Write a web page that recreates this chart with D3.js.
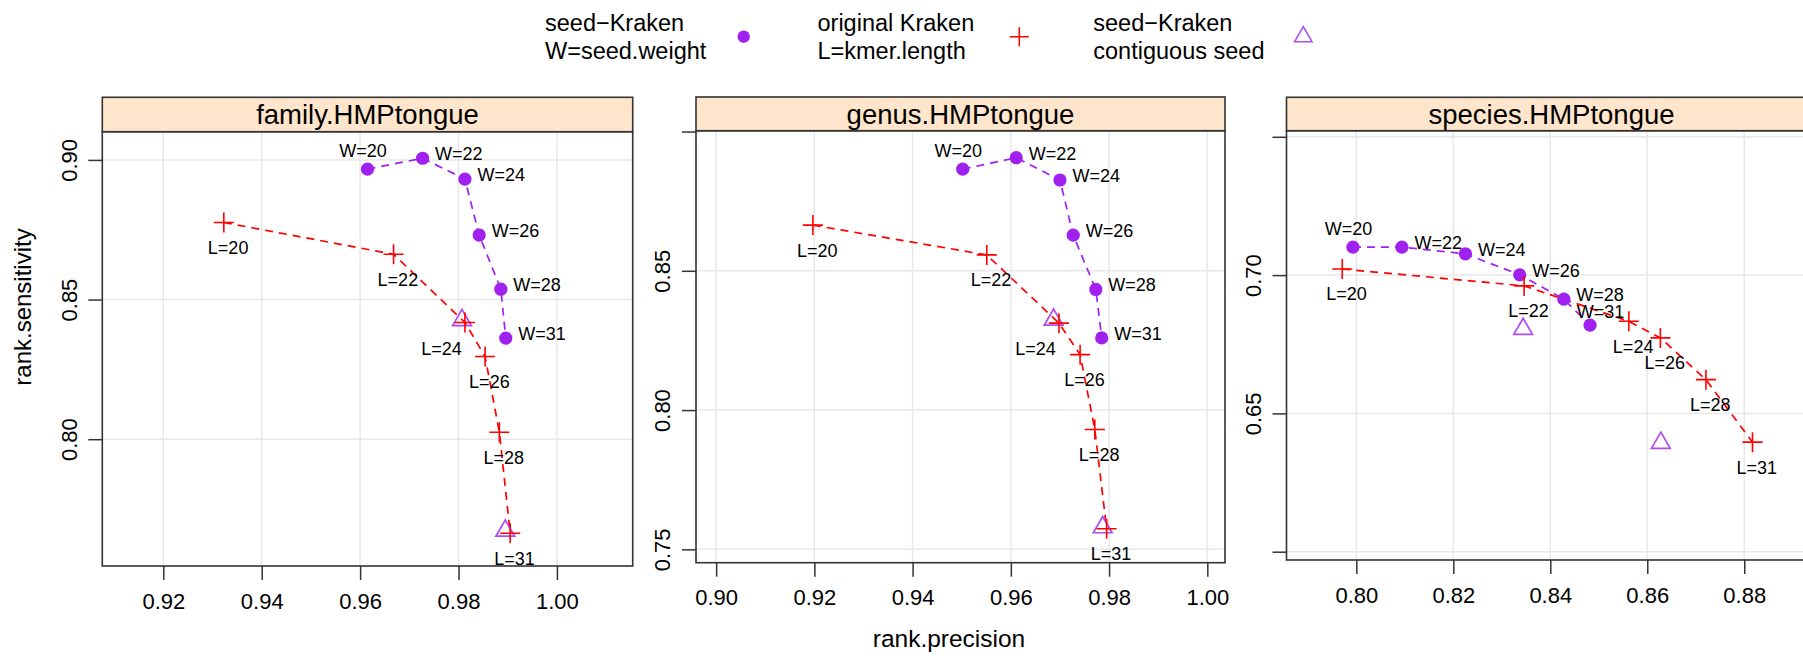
<!DOCTYPE html>
<html>
<head>
<meta charset="utf-8">
<script src="https://cdn.jsdelivr.net/npm/d3@7"></script>
<style>
  body { margin: 0; background: #fff; }
  svg { display: block; }
  text { font-family: "Liberation Sans", Arial, Helvetica, sans-serif; fill: #000; }
</style>
</head>
<body>
<svg id="chart" width="1803" height="656"></svg>
<script>
// ---- data ----------------------------------------------------------------
const panelNames = ["family.HMPtongue", "genus.HMPtongue", "species.HMPtongue"];
const seedWeights = [20, 22, 24, 26, 28, 31];
const kmerLengths = [20, 22, 24, 26, 28, 31];

const familySeedPrecision   = [0.9615, 0.9727, 0.9813, 0.9842, 0.9886, 0.9896];
const familySeedSensitivity = [0.8967, 0.9006, 0.8931, 0.8731, 0.8537, 0.8362];
const familyKmerPrecision   = [0.9323, 0.9668, 0.9813, 0.9854, 0.9883, 0.9905];
const familyKmerSensitivity = [0.8776, 0.8662, 0.8418, 0.8296, 0.8025, 0.7663];
const familyContigPrecision   = [0.9807, 0.9895];
const familyContigSensitivity = [0.8426, 0.7672];

const genusSeedPrecision   = [0.9502, 0.9611, 0.9700, 0.9727, 0.9773, 0.9785];
const genusSeedSensitivity = [0.8865, 0.8906, 0.8826, 0.8628, 0.8433, 0.8259];
const genusKmerPrecision   = [0.9197, 0.9551, 0.9698, 0.9741, 0.9771, 0.9795];
const genusKmerSensitivity = [0.8664, 0.8557, 0.8312, 0.8199, 0.7930, 0.7574];
const genusContigPrecision   = [0.9687, 0.9787];
const genusContigSensitivity = [0.8324, 0.7579];

const speciesSeedPrecision   = [0.7993, 0.8094, 0.8225, 0.8337, 0.8428, 0.8482];
const speciesSeedSensitivity = [0.7101, 0.7101, 0.7077, 0.7001, 0.6913, 0.6819];
const speciesKmerPrecision   = [0.7971, 0.8346, 0.8562, 0.8627, 0.8721, 0.8817];
const speciesKmerSensitivity = [0.7022, 0.6961, 0.6833, 0.6773, 0.6622, 0.6396];
const speciesContigPrecision   = [0.8344, 0.8628];
const speciesContigSensitivity = [0.6805, 0.6393];

// tick values and their printed labels ("" = tick mark only)
const familyXTicks  = [0.92, 0.94, 0.96, 0.98, 1.00];
const familyXLabels = ["0.92", "0.94", "0.96", "0.98", "1.00"];
const genusXTicks   = [0.90, 0.92, 0.94, 0.96, 0.98, 1.00];
const genusXLabels  = ["0.90", "0.92", "0.94", "0.96", "0.98", "1.00"];
const speciesXTicks  = [0.80, 0.82, 0.84, 0.86, 0.88];
const speciesXLabels = ["0.80", "0.82", "0.84", "0.86", "0.88"];
const familyYTicks  = [0.80, 0.85, 0.90];
const familyYLabels = ["0.80", "0.85", "0.90"];
const genusYTicks   = [0.75, 0.80, 0.85, 0.90];
const genusYLabels  = ["0.75", "0.80", "0.85", ""];
const speciesYTicks  = [0.60, 0.65, 0.70, 0.75];
const speciesYLabels = ["", "0.65", "0.70", ""];

const legendLines = [
  ["seed\u2212Kraken", "W=seed.weight"],
  ["original Kraken", "L=kmer.length"],
  ["seed\u2212Kraken", "contiguous seed"]
];
const xTitle = "rank.precision";
const yTitle = "rank.sensitivity";

// ---- panel table built from the arrays --------------------------------------
const zipPts = (xs, ys, labels) => xs.map((x, i) => ({ x, y: ys[i], label: labels ? labels[i] : null }));
const panels = [
  { key: "family", name: panelNames[0],
    seed: zipPts(familySeedPrecision, familySeedSensitivity, seedWeights.map(w => "W=" + w)),
    kmer: zipPts(familyKmerPrecision, familyKmerSensitivity, kmerLengths.map(l => "L=" + l)),
    contig: zipPts(familyContigPrecision, familyContigSensitivity),
    xTicks: familyXTicks, xLabels: familyXLabels, yTicks: familyYTicks, yLabels: familyYLabels },
  { key: "genus", name: panelNames[1],
    seed: zipPts(genusSeedPrecision, genusSeedSensitivity, seedWeights.map(w => "W=" + w)),
    kmer: zipPts(genusKmerPrecision, genusKmerSensitivity, kmerLengths.map(l => "L=" + l)),
    contig: zipPts(genusContigPrecision, genusContigSensitivity),
    xTicks: genusXTicks, xLabels: genusXLabels, yTicks: genusYTicks, yLabels: genusYLabels },
  { key: "species", name: panelNames[2],
    seed: zipPts(speciesSeedPrecision, speciesSeedSensitivity, seedWeights.map(w => "W=" + w)),
    kmer: zipPts(speciesKmerPrecision, speciesKmerSensitivity, kmerLengths.map(l => "L=" + l)),
    contig: zipPts(speciesContigPrecision, speciesContigSensitivity),
    xTicks: speciesXTicks, xLabels: speciesXLabels, yTicks: speciesYTicks, yLabels: speciesYLabels }
];

// ---- layout (free scales per panel) -------------------------------------------
const frames = [
  { left: 102.3, right: 632.7, stripTop: 97.3, top: 131.7, bottom: 566.0, xDomain: [0.9076, 1.0154], yDomain: [0.7546, 0.9101] },
  { left: 696.0, right: 1225.0, stripTop: 97.0, top: 130.7, bottom: 562.7, xDomain: [0.8959, 1.0036], yDomain: [0.7452, 0.9003] },
  { left: 1286.5, right: 1816.5, stripTop: 97.3, top: 130.7, bottom: 560.0, xDomain: [0.7856, 0.8949], yDomain: [0.5970, 0.7522] }
];

const PURPLE = "#a020f0", RED = "#ff0000", TRI = "#b04cf2";
const BORDER = "#333", GRID = "#e8e8e8";

const svg = d3.select("#chart");
svg.append("rect").attr("width", 1803).attr("height", 656).attr("fill", "#fff");

// marker shapes
const plusPath = r => `M${-r},0H${r}M0,${-r}V${r}`;
const triPath = r => {            // triangle centred on its centroid
  const hx = r * Math.sqrt(3) / 2;
  return `M0,${-r}L${hx},${r / 2}L${-hx},${r / 2}Z`;
};

// point label placement
const labelOverrides = {
  "family:L=24":  { dx: -3.2, dy: 33, anchor: "end" },
  "genus:L=24":   { dx: -3.2, dy: 32, anchor: "end" },
  "species:W=31": { dx: -13.4, dy: -7.5, anchor: "start" }
};
function placeLabel(panelKey, series, label) {
  const o = labelOverrides[panelKey + ":" + label];
  if (o) return o;
  if (series === "seed") {
    return label === "W=20" ? { dx: -4.5, dy: -12.5, anchor: "middle" }
                            : { dx: 12.5, dy: 1.8, anchor: "start" };
  }
  return { dx: 4.3, dy: 31.4, anchor: "middle" };
}

panels.forEach((p, pi) => {
  const f = frames[pi];
  const x = d3.scaleLinear().domain(f.xDomain).range([f.left, f.right]);
  const y = d3.scaleLinear().domain(f.yDomain).range([f.bottom, f.top]);
  const g = svg.append("g");

  // grid
  g.append("g").selectAll("line").data(p.xTicks).join("line")
    .attr("x1", d => x(d)).attr("x2", d => x(d)).attr("y1", f.top).attr("y2", f.bottom)
    .attr("stroke", GRID).attr("stroke-width", 1.5);
  g.append("g").selectAll("line").data(p.yTicks).join("line")
    .attr("x1", f.left).attr("x2", f.right).attr("y1", d => y(d)).attr("y2", d => y(d))
    .attr("stroke", GRID).attr("stroke-width", 1.5);

  // axes (ticks outside, left and bottom only)
  const xAxis = d3.axisBottom(x).tickValues(p.xTicks).tickSize(14).tickPadding(0)
    .tickFormat((d, i) => p.xLabels[i]);
  const xg = g.append("g").attr("transform", `translate(0,${f.bottom})`).call(xAxis);
  xg.select(".domain").remove();
  xg.selectAll(".tick line").attr("stroke", BORDER).attr("stroke-width", 1.5);
  xg.selectAll(".tick text").attr("y", 42.5).attr("dy", 0)
    .attr("font-size", 22).attr("fill", "#000").style("font-family", "Liberation Sans, Arial, sans-serif");

  const yAxis = d3.axisLeft(y).tickValues(p.yTicks).tickSize(14).tickPadding(0)
    .tickFormat((d, i) => p.yLabels[i]);
  const yg = g.append("g").attr("transform", `translate(${f.left},0)`).call(yAxis);
  yg.select(".domain").remove();
  yg.selectAll(".tick line").attr("stroke", BORDER).attr("stroke-width", 1.5);
  yg.selectAll(".tick text").attr("x", 0).attr("dy", 0)
    .attr("transform", "translate(-25.6,0) rotate(-90)")
    .attr("text-anchor", "middle")
    .attr("font-size", 22).attr("fill", "#000").style("font-family", "Liberation Sans, Arial, sans-serif");

  // connecting dashed lines
  const line = d3.line().x(d => x(d.x)).y(d => y(d.y));
  g.append("path").datum(p.seed).attr("d", line).attr("fill", "none")
    .attr("stroke", PURPLE).attr("stroke-width", 1.7).attr("stroke-dasharray", "8,6");
  g.append("path").datum(p.kmer).attr("d", line).attr("fill", "none")
    .attr("stroke", RED).attr("stroke-width", 1.7).attr("stroke-dasharray", "8,6");

  // markers
  g.append("g").selectAll("circle").data(p.seed).join("circle")
    .attr("cx", d => x(d.x)).attr("cy", d => y(d.y)).attr("r", 6.6).attr("fill", PURPLE);
  g.append("g").selectAll("path").data(p.contig).join("path")
    .attr("transform", d => `translate(${x(d.x)},${y(d.y)})`).attr("d", triPath(10.8))
    .attr("fill", "none").attr("stroke", TRI).attr("stroke-width", 1.7);
  g.append("g").selectAll("path").data(p.kmer).join("path")
    .attr("transform", d => `translate(${x(d.x)},${y(d.y)})`).attr("d", plusPath(10))
    .attr("fill", "none").attr("stroke", RED).attr("stroke-width", 1.6);

  // point labels
  const labelled = p.seed.map(d => ({ ...d, series: "seed" }))
    .concat(p.kmer.map(d => ({ ...d, series: "kmer" })));
  g.append("g").selectAll("text").data(labelled).join("text")
    .each(function (d) {
      const pl = placeLabel(p.key, d.series, d.label);
      d3.select(this).attr("x", x(d.x) + pl.dx).attr("y", y(d.y) + pl.dy)
        .attr("text-anchor", pl.anchor);
    })
    .attr("font-size", 18).attr("fill", "#1a1a1a")
    .text(d => d.label);

  // panel border and strip
  g.append("rect").attr("x", f.left).attr("y", f.top)
    .attr("width", f.right - f.left).attr("height", f.bottom - f.top)
    .attr("fill", "none").attr("stroke", BORDER).attr("stroke-width", 1.6);
  g.append("rect").attr("x", f.left).attr("y", f.stripTop)
    .attr("width", f.right - f.left).attr("height", f.top - f.stripTop)
    .attr("fill", "#ffe5cc").attr("stroke", BORDER).attr("stroke-width", 1.6);
  g.append("text").attr("x", (f.left + f.right) / 2).attr("y", f.stripTop + 26.8)
    .attr("text-anchor", "middle").attr("font-size", 27.5).text(p.name);
});

// ---- legend --------------------------------------------------------------------
const legendTextX = [545, 817.5, 1093.3];
const legendSymX = [743.7, 1019.3, 1303.3];
const legendSymY = 36.7;
const lg = svg.append("g");
legendLines.forEach((lines, i) => {
  lines.forEach((t, j) => {
    lg.append("text").attr("x", legendTextX[i]).attr("y", 30.7 + j * 28.6)
      .attr("font-size", 23.5).text(t);
  });
});
lg.append("circle").attr("cx", legendSymX[0]).attr("cy", legendSymY).attr("r", 6.2).attr("fill", PURPLE);
lg.append("path").attr("transform", `translate(${legendSymX[1]},${legendSymY})`)
  .attr("d", plusPath(9.5)).attr("stroke", RED).attr("stroke-width", 1.5).attr("fill", "none");
lg.append("path").attr("transform", `translate(${legendSymX[2]},${legendSymY})`)
  .attr("d", triPath(10)).attr("stroke", TRI).attr("stroke-width", 1.6).attr("fill", "none");

// ---- axis titles ---------------------------------------------------------------
svg.append("text").attr("x", 949).attr("y", 647).attr("text-anchor", "middle")
  .attr("font-size", 24.5).text(xTitle);
svg.append("text").attr("transform", "translate(31,307) rotate(-90)")
  .attr("text-anchor", "middle").attr("font-size", 24).text(yTitle);
</script>
</body>
</html>
